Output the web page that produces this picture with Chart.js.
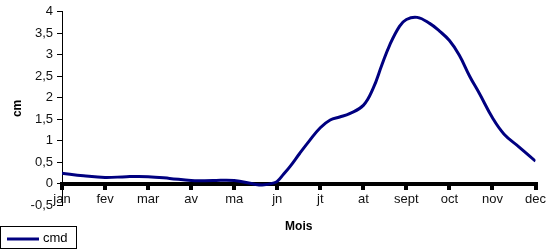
<!DOCTYPE html>
<html>
<head>
<meta charset="utf-8">
<script src="https://cdn.jsdelivr.net/npm/chart.js@4"></script>
<style>
  html, body { margin: 0; padding: 0; background: #fff; }
  #wrap { position: relative; width: 550px; height: 249px; }
</style>
</head>
<body>
<div id="wrap"><canvas id="chart" width="550" height="249"></canvas></div>
<script>
const months = ["jan", "fev", "mar", "av", "ma", "jn", "jt", "at", "sept", "oct", "nov", "dec"];
// position along the month axis (0 = jan ... 11 = dec) and value
const monthPos = [0, 0.5, 1, 1.5, 2, 2.5, 3, 3.5, 4, 4.5, 4.7, 4.9, 5, 5.15, 5.3, 5.52, 5.75, 6,
  6.23, 6.45, 6.68, 7, 7.23, 7.43, 7.61, 7.84, 8, 8.25, 8.54, 8.77, 9, 9.23, 9.47, 9.7,
  10, 10.27, 10.62, 11];
const cmd = [0.24, 0.18, 0.14, 0.16, 0.16, 0.12, 0.07, 0.07, 0.07, -0.02, -0.03, 0.01, 0.05, 0.22, 0.4, 0.7, 1.0, 1.3,
  1.48, 1.55, 1.63, 1.82, 2.22, 2.76, 3.22, 3.66, 3.82, 3.87, 3.73, 3.55, 3.33, 2.99, 2.5, 2.09,
  1.53, 1.15, 0.85, 0.52];
const seriesName = "cmd";
const xTitle = "Mois";
const yTitle = "cm";

const font = "'Liberation Sans', Arial, sans-serif";

// legend drawn in a framed box at the bottom left, like the original
const boxLegend = {
  id: "boxLegend",
  afterDraw(chart) {
    const ctx = chart.ctx;
    const ds = chart.data.datasets[0];
    ctx.save();
    ctx.strokeStyle = "#000";
    ctx.lineWidth = 1;
    ctx.strokeRect(0.5, 226.5, 76, 22);
    ctx.strokeStyle = ds.borderColor;
    ctx.lineWidth = 3;
    ctx.beginPath();
    ctx.moveTo(7, 239);
    ctx.lineTo(39, 239);
    ctx.stroke();
    ctx.fillStyle = "#000";
    ctx.font = "13px " + font;
    ctx.textBaseline = "middle";
    ctx.fillText(ds.label, 43, 238);
    ctx.restore();
  }
};

let chart;

function initChart() {
  const ctx = document.getElementById("chart");
  chart = new Chart(ctx, {
    type: "line",
    data: {
      datasets: [{
        label: seriesName,
        data: monthPos.map((p, i) => ({ x: p, y: cmd[i] })),
        borderColor: "#000080",
        borderWidth: 3,
        pointRadius: 0,
        tension: 0.4,
        fill: false
      }]
    },
    options: {
      responsive: false,
      animation: false,
      layout: { padding: { top: 5, right: 13, bottom: 0, left: 0 } },
      plugins: { legend: { display: false }, tooltip: { enabled: false } },
      scales: {
        x: {
          type: "linear",
          position: { y: 0 },
          min: 0,
          max: 11,
          grid: { drawOnChartArea: false, color: "#000", lineWidth: 4, tickLength: 4 },
          border: { color: "#000", width: 4 },
          ticks: {
            stepSize: 1,
            autoSkip: false,
            maxRotation: 0,
            padding: 4,
            color: "#111",
            font: { family: font, size: 13 },
            callback: v => months[v] ?? ""
          }
        },
        x2: {
          type: "linear",
          position: "bottom",
          min: 0,
          max: 11,
          grid: { display: false },
          border: { display: false },
          ticks: { display: false },
          title: {
            display: true,
            text: xTitle,
            color: "#000",
            font: { family: font, size: 12, weight: "bold" },
            padding: { top: 0, bottom: 15 }
          },
          afterFit: s => { s.height = 44; }
        },
        y: {
          min: -0.5,
          max: 4,
          grid: { drawOnChartArea: false, color: "#000", tickLength: 5 },
          border: { color: "#000", width: 1 },
          ticks: {
            stepSize: 0.5,
            padding: 4,
            color: "#111",
            font: { family: font, size: 13 },
            callback: v => String(v).replace(".", ",")
          },
          title: {
            display: true,
            text: yTitle,
            color: "#000",
            font: { family: font, size: 12, weight: "bold" },
            padding: { top: 10, bottom: 0 }
          },
          afterFit: s => { s.width = 62; }
        }
      }
    },
    plugins: [boxLegend]
  });
}

window.onload = () => {
  initChart();
};
</script>
</body>
</html>
